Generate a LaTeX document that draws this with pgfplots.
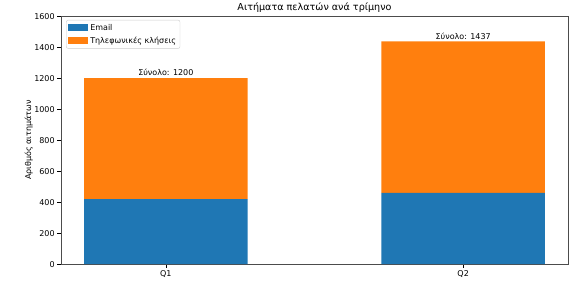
\documentclass[border=0pt]{standalone}
\usepackage{pgfplots}
\pgfplotsset{compat=1.18}
\usepackage{fontspec}
\setmainfont{DejaVu Sans}
\definecolor{mblue}{HTML}{1F77B4}
\definecolor{morange}{HTML}{FF7F0E}
\begin{document}
\fontsize{8bp}{9.6bp}\selectfont
\begin{tikzpicture}
\begin{axis}[
  name=ax,
  scale only axis,
  width=507bp, height=248bp,
  xmin=-0.3525, xmax=1.3525,
  ymin=0, ymax=1600,
  ybar stacked,
  bar width=0.55,
  xtick={0,1}, xticklabels={Q1,Q2},
  ytick={0,200,400,600,800,1000,1200,1400,1600},
  xtick pos=bottom, ytick pos=left,
  tick align=outside,
  major tick length=3.5bp,
  tick style={black, line width=0.6pt},
  axis line style={black!70, line width=0.6pt},
  tick label style={font=\fontsize{8bp}{9.6bp}\selectfont},
  /pgf/number format/assume math mode=true,
  /pgf/number format/1000 sep={},
  ylabel={Αριθμός αιτημάτων},
  ylabel style={font=\fontsize{8bp}{9.6bp}\selectfont, yshift=-4bp},
  title={Αιτήματα πελατών ανά τρίμηνο},
  title style={font=\fontsize{9.6bp}{11bp}\selectfont, yshift=-5bp},
  legend style={at={(0.01,0.985)}, anchor=north west, draw=black!20, rounded corners=2pt,
    font=\fontsize{8bp}{9.6bp}\selectfont, row sep=1.5bp, inner sep=2bp},
  legend cell align=left,
  legend image code/.code={\fill[#1, sharp corners] (0bp,-3.5bp) rectangle (20bp,3.5bp);},
]
\addplot[fill=mblue, draw=none] coordinates {(0,420) (1,460)};
\addplot[fill=morange, draw=none] coordinates {(0,780) (1,977)};
\legend{Email, Τηλεφωνικές κλήσεις}
\node[above, font=\fontsize{8bp}{9.6bp}\selectfont, inner sep=2bp] at (axis cs:0,1200) {Σύνολο: 1200};
\node[above, font=\fontsize{8bp}{9.6bp}\selectfont, inner sep=2bp] at (axis cs:1,1437) {Σύνολο: 1437};
\end{axis}
\path ([shift={(-61bp,-24bp)}]ax.south west) rectangle ([shift={(6bp,16bp)}]ax.north east);
\end{tikzpicture}
\end{document}
